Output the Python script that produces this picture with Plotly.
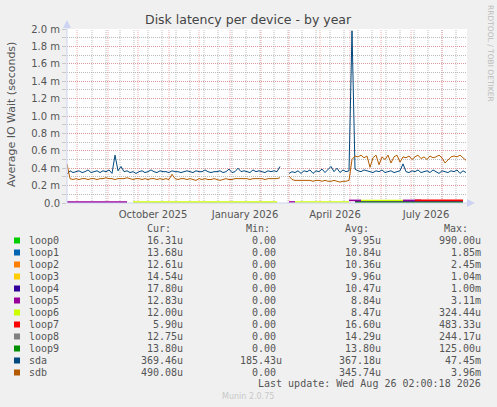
import pandas as pd
import plotly.graph_objects as go

N = None
START = '2025-07-22'
END = '2026-08-26'

# sample dates (every 3 days) for sda / sdb, every 6 days for loop devices
dates = pd.date_range(START, periods=134, freq='3D')
loop_dates = pd.date_range(START, periods=67, freq='6D')

# values in milliseconds
sda = [0.33, 0.37, 0.35, 0.36, 0.37, 0.35, 0.36, 0.38, 0.35, 0.36,
       0.37, 0.35, 0.37, 0.36, 0.38, 0.34, 0.55, 0.37, 0.42, 0.36,
       0.37, 0.35, 0.36, 0.34, 0.36, 0.37, 0.35, 0.36, 0.38, 0.36,
       0.35, 0.37, 0.36, 0.36, 0.35, 0.37, 0.36, 0.36, 0.35, 0.36,
       0.37, 0.36, 0.35, 0.37, 0.36, 0.36, 0.38, 0.36, 0.35, 0.36,
       0.36, 0.37, 0.35, 0.36, 0.39, 0.35, 0.36, 0.40, 0.36, 0.37,
       0.36, 0.35, 0.38, 0.36, 0.37, 0.36, 0.35, 0.37, 0.36, 0.37,
       0.36, 0.42, N, N, 0.34, 0.36, 0.35, 0.37, 0.34, 0.37,
       0.36, 0.38, 0.34, 0.37, 0.36, 0.39, 0.35, 0.38, 0.42, 0.36,
       0.40, 0.35, 0.38, 0.36, 0.37, 1.98, 0.39, 0.37, 0.36, 0.38,
       0.37, 0.36, 0.35, 0.37, 0.36, 0.38, 0.35, 0.36, 0.37, 0.35,
       0.36, 0.37, 0.45, 0.36, 0.35, 0.37, 0.36, 0.38, 0.35, 0.36,
       0.37, 0.35, 0.38, 0.36, 0.34, 0.37, 0.36, 0.35, 0.37, 0.36,
       0.38, 0.34, 0.37, 0.35]

sdb = [0.45, 0.28, 0.27, 0.28, 0.27, 0.28, 0.28, 0.27, 0.28, 0.28,
       0.27, 0.28, 0.28, 0.29, 0.28, 0.28, 0.27, 0.28, 0.28, 0.28,
       0.29, 0.28, 0.27, 0.28, 0.28, 0.27, 0.28, 0.27, 0.28, 0.28,
       0.27, 0.28, 0.27, 0.28, 0.27, 0.33, 0.28, 0.27, 0.28, 0.28,
       0.27, 0.28, 0.27, 0.26, 0.28, 0.27, 0.28, 0.27, 0.27, 0.28,
       0.27, 0.26, 0.27, 0.28, 0.27, 0.27, 0.28, 0.28, 0.28, 0.28,
       0.28, 0.27, 0.28, 0.28, 0.28, 0.28, 0.27, 0.28, 0.28, 0.28,
       0.28, 0.29, N, N, 0.31, 0.27, 0.26, 0.26, 0.26, 0.26,
       0.26, 0.26, 0.25, 0.26, 0.26, 0.25, 0.26, 0.25, 0.25, 0.26,
       0.25, 0.24, 0.25, 0.25, 0.26, 0.50, 0.54, 0.53, 0.55, 0.52,
       0.54, 0.41, 0.52, 0.55, 0.44, 0.53, 0.50, 0.55, 0.46, 0.53,
       0.55, 0.47, 0.53, 0.52, 0.54, 0.50, 0.53, 0.55, 0.51, 0.53,
       0.50, 0.54, 0.52, 0.53, 0.55, 0.52, 0.46, 0.50, 0.53, 0.54,
       0.53, 0.55, 0.52, 0.49]

loop0 = [N, N, N, N, N, N, N, N, N, N, N, N, N, N, N, N, N, N, N, N,
         N, N, N, N, N, N, N, N, N, N, N, N, N, N, N, N, N, N, N, N,
         N, N, N, N, N, N, N, N, 0.008, 0.008, 0.008, 0.008, 0.008, 0.008, 0.008, 0.008, 0.008, 0.008, 0.008, 0.008,
         0.008, 0.008, 0.008, 0.008, 0.008, 0.008, 0.008]
loop1 = [N, N, N, N, N, N, N, N, N, N, N, N, N, N, N, N, N, N, N, N,
         N, N, N, N, N, N, N, N, N, N, N, N, N, N, N, N, N, N, N, N,
         N, N, N, N, N, N, N, N, 0.012, 0.012, 0.012, 0.012, 0.012, 0.012, 0.012, 0.012, 0.012, 0.012, 0.012, 0.012,
         0.012, 0.012, 0.012, 0.012, 0.012, 0.012, 0.012]
loop2 = [N, N, N, N, N, N, N, N, N, N, N, N, N, N, N, N, N, N, N, N,
         N, N, N, N, N, N, N, N, N, N, N, N, N, N, N, N, N, N, N, N,
         N, N, N, N, N, N, N, N, 0.010, 0.010, 0.010, 0.010, 0.010, 0.010, 0.010, 0.010, 0.010, 0.010, 0.010, 0.010,
         0.010, 0.010, 0.010, 0.010, 0.010, 0.010, 0.010]
loop3 = [N, N, N, N, N, N, N, N, N, N, N, N, N, N, N, N, N, N, N, N,
         N, N, N, N, N, N, N, N, N, N, N, N, N, N, N, N, N, N, N, N,
         N, N, N, N, N, N, N, N, 0.018, 0.018, 0.018, 0.018, 0.018, 0.018, 0.018, 0.018, 0.018, 0.018, 0.018, 0.018,
         0.018, 0.018, 0.018, 0.018, 0.018, 0.018, 0.018]
loop4 = [N, N, N, N, N, N, N, N, N, N, N, N, N, N, N, N, N, N, N, N,
         N, N, N, N, N, N, N, N, N, N, N, N, N, N, N, N, N, N, N, N,
         N, N, N, N, N, N, N, N, 0.015, 0.015, 0.015, 0.015, 0.015, 0.015, 0.015, 0.015, 0.015, 0.015, 0.015, 0.015,
         0.015, 0.015, 0.015, 0.015, 0.015, 0.015, 0.015]
loop5 = [0.01, 0.01, 0.01, 0.01, 0.01, 0.01, 0.01, 0.01, 0.01, 0.01, 0.01, N, N, N, N, N, N, N, N, N,
         N, N, N, N, N, N, N, N, N, N, N, N, N, N, N, N, N, 0.012, 0.012, N,
         N, N, N, N, N, N, N, 0.03, 0.03, 0.03, N, N, N, N, N, N, 0.03, 0.03, 0.03, 0.03,
         N, N, N, N, N, N, N]
loop6 = [N, N, N, N, N, N, N, N, N, N, N, 0.01, 0.01, 0.01, 0.01, 0.01, 0.01, 0.01, 0.01, 0.01,
         0.01, 0.01, 0.01, 0.01, 0.01, 0.01, 0.01, 0.01, 0.01, 0.01, 0.01, 0.01, 0.01, 0.01, 0.01, 0.01, N, N, 0.012, 0.012,
         0.012, 0.012, 0.012, 0.012, 0.012, 0.012, 0.012, 0.012, N, 0.028, 0.028, 0.028, 0.028, 0.028, 0.028, 0.028, 0.028, N, N, N,
         N, N, N, N, N, N, N]
loop7 = [N, N, N, N, N, N, N, N, N, N, N, N, N, N, N, N, N, N, N, N,
         N, N, N, N, N, N, N, N, N, N, N, N, N, N, N, N, N, N, N, N,
         N, N, N, N, N, N, N, N, N, N, N, N, N, N, N, N, N, N, 0.03, 0.03,
         0.03, 0.03, 0.03, 0.03, 0.03, 0.03, 0.03]
loop8 = [N, N, N, N, N, N, N, N, N, N, N, N, N, N, N, N, N, N, N, N,
         N, N, N, N, N, N, N, N, N, N, N, N, N, N, N, N, N, N, N, N,
         N, N, N, N, N, N, N, N, 0.006, 0.006, 0.006, 0.006, 0.006, 0.006, 0.006, 0.006, 0.006, 0.006, 0.006, 0.006,
         0.006, 0.006, 0.006, 0.006, 0.006, 0.006, 0.006]
loop9 = [N, N, N, N, N, N, N, N, N, N, N, N, N, N, N, N, N, N, N, N,
         N, N, N, N, N, N, N, N, N, N, N, N, N, N, N, N, N, N, N, N,
         N, N, N, N, N, N, N, N, 0.005, 0.005, 0.005, 0.005, 0.005, 0.005, 0.005, 0.005, 0.005, 0.005, 0.005, 0.005,
         0.005, 0.005, 0.005, 0.005, 0.005, 0.005, 0.005]

names = ['loop0', 'loop1', 'loop2', 'loop3', 'loop4', 'loop5', 'loop6', 'loop7',
         'loop8', 'loop9', 'sda', 'sdb']
colors = ['#00CC00', '#0066B3', '#FF8000', '#FFCC00', '#330099', '#990099',
          '#CCFF00', '#FF0000', '#808080', '#008F00', '#00487D', '#B35A00']
cur_vals = ['16.31u', '13.68u', '12.61u', '14.54u', '17.80u', '12.83u', '12.00u',
            '5.90u', '12.75u', '13.80u', '369.46u', '490.08u']
min_vals = ['0.00', '0.00', '0.00', '0.00', '0.00', '0.00', '0.00', '0.00',
            '0.00', '0.00', '185.43u', '0.00']
avg_vals = ['9.95u', '10.84u', '10.36u', '9.96u', '10.47u', '8.84u', '8.47u',
            '16.60u', '14.29u', '13.80u', '367.18u', '345.74u']
max_vals = ['990.00u', '1.85m', '2.45m', '1.04m', '1.00m', '3.11m', '324.44u',
            '483.33u', '244.17u', '125.00u', '47.45m', '3.96m']

y_tick_vals = [0, 0.2, 0.4, 0.6, 0.8, 1.0, 1.2, 1.4, 1.6, 1.8, 2.0]
y_tick_text = ['0.0', '0.2 m', '0.4 m', '0.6 m', '0.8 m', '1.0 m', '1.2 m', '1.4 m',
               '1.6 m', '1.8 m', '2.0 m']
x_tick_vals = ['2025-10-16', '2026-01-16', '2026-04-16', '2026-07-16']
x_tick_text = ['October 2025', 'January 2026', 'April 2026', 'July 2026']
month_starts = ['2025-08-01', '2025-09-01', '2025-10-01', '2025-11-01', '2025-12-01',
                '2026-01-01', '2026-02-01', '2026-03-01', '2026-04-01', '2026-05-01',
                '2026-06-01', '2026-07-01', '2026-08-01']
minor_grid_dates = pd.date_range('2025-08-16', END, freq='14D')

W, H = 497, 407
L, R, T, B = 67, 30, 29, 204
PW = W - L - R
PH = H - T - B


def px(x):
    return (x - L) / PW


def py(y):
    return (H - B - y) / PH


fig = go.Figure()
loops = [loop0, loop1, loop2, loop3, loop4, loop5, loop6, loop7, loop8, loop9]
for i, vals in enumerate(loops):
    fig.add_trace(go.Scatter(x=loop_dates, y=vals, mode='lines', name=names[i],
                             line=dict(color=colors[i], width=1.6), showlegend=False,
                             cliponaxis=True))
fig.add_trace(go.Scatter(x=dates, y=sda, mode='lines', name='sda',
                         line=dict(color=colors[10], width=1), showlegend=False))
fig.add_trace(go.Scatter(x=dates, y=sdb, mode='lines', name='sdb',
                         line=dict(color=colors[11], width=1), showlegend=False))

RED = 'rgba(235,140,140,0.7)'
GRAY = 'rgba(175,175,175,0.85)'
AXIS = '#CDD3F2'
TXT = '#555555'

shapes = []
for d in minor_grid_dates:
    shapes.append(dict(type='line', xref='x', yref='paper', x0=d, x1=d, y0=0, y1=1,
                       line=dict(color=GRAY, width=1, dash='1px,1px'), layer='below'))
for m in month_starts:
    shapes.append(dict(type='line', xref='x', yref='paper', x0=m, x1=m, y0=0, y1=1,
                       line=dict(color=RED, width=1, dash='1px,1px'), layer='below'))
# axes with arrows
shapes.append(dict(type='line', xref='paper', yref='paper', x0=0, x1=0, y0=0, y1=py(27),
                   line=dict(color=AXIS, width=1)))
shapes.append(dict(type='path', xref='paper', yref='paper',
                   path=f'M {px(63)} {py(28)} L {px(67)} {py(20)} L {px(71)} {py(28)} Z',
                   fillcolor=AXIS, line=dict(width=0)))
shapes.append(dict(type='line', xref='paper', yref='paper', x0=0, x1=px(468), y0=0, y1=0,
                   line=dict(color=AXIS, width=1)))
shapes.append(dict(type='path', xref='paper', yref='paper',
                   path=f'M {px(467)} {py(199)} L {px(475)} {py(203)} L {px(467)} {py(207)} Z',
                   fillcolor=AXIS, line=dict(width=0)))

ann = []
ann.append(dict(text='Disk latency per device - by year', x=px(248.5), y=py(19.5),
                xref='paper', yref='paper', showarrow=False, xanchor='center', yanchor='middle',
                font=dict(family='DejaVu Sans', size=12.5, color='#444444')))
ann.append(dict(text='Average IO Wait (seconds)', x=px(11), y=py(114), textangle=-90,
                xref='paper', yref='paper', showarrow=False, xanchor='center', yanchor='middle',
                font=dict(family='DejaVu Sans', size=11, color=TXT)))
ann.append(dict(text='RRDTOOL / TOBI OETIKER', x=px(491), y=py(53), textangle=90,
                xref='paper', yref='paper', showarrow=False, xanchor='center', yanchor='middle',
                font=dict(family='DejaVu Sans', size=7.5, color='#BBBBBB')))

MONO = 'DejaVu Sans Mono'
FS = 10
header_y = 228
heads = [('Cur:', 173), ('Min:', 272), ('Avg:', 371), ('Max:', 470)]
for t, xr in heads:
    ann.append(dict(text=t, x=px(xr), y=py(header_y), xref='paper', yref='paper',
                    showarrow=False, xanchor='right', yanchor='middle',
                    font=dict(family=MONO, size=FS, color=TXT)))


def fmt(v):
    return v if v[-1] in 'um' else v + '\u00a0'


for i, nm in enumerate(names):
    cy = 240.5 + 12 * i
    shapes.append(dict(type='rect', xref='paper', yref='paper', x0=px(14), x1=px(20),
                       y0=py(cy + 3), y1=py(cy - 3), fillcolor=colors[i], line=dict(width=0)))
    ann.append(dict(text=nm, x=px(26.5), y=py(cy), xref='paper', yref='paper',
                    showarrow=False, xanchor='left', yanchor='middle',
                    font=dict(family=MONO, size=FS, color=TXT)))
    for v, xr in ((cur_vals[i], 185), (min_vals[i], 284), (avg_vals[i], 383), (max_vals[i], 483)):
        ann.append(dict(text=fmt(v), x=px(xr), y=py(cy), xref='paper', yref='paper',
                        showarrow=False, xanchor='right', yanchor='middle',
                        font=dict(family=MONO, size=FS, color=TXT)))

ann.append(dict(text='Last update: Wed Aug 26 02:00:18 2026', x=px(483), y=py(384),
                xref='paper', yref='paper', showarrow=False, xanchor='right', yanchor='middle',
                font=dict(family=MONO, size=FS, color=TXT)))
ann.append(dict(text='Munin 2.0.75', x=px(248), y=py(396), xref='paper', yref='paper',
                showarrow=False, xanchor='center', yanchor='middle',
                font=dict(family='DejaVu Sans', size=8, color='#C8C8C8')))

fig.update_layout(
    width=W, height=H,
    margin=dict(l=L, r=R, t=T, b=B, pad=0),
    paper_bgcolor='#F0F0F0', plot_bgcolor='#FFFFFF',
    showlegend=False,
    shapes=shapes, annotations=ann,
    xaxis=dict(type='date', range=[START, END], tickmode='array', tickvals=x_tick_vals,
               ticktext=x_tick_text, showgrid=False, ticks='outside', ticklen=2,
               tickcolor='rgba(0,0,0,0)', zeroline=False,
               showline=False, tickfont=dict(family='DejaVu Sans', size=10, color=TXT)),
    yaxis=dict(range=[0, 2.0], tickmode='array', tickvals=y_tick_vals, ticktext=y_tick_text,
               showgrid=True, gridcolor=RED, griddash='1px,1px', gridwidth=1,
               zeroline=False, showline=False, ticks='outside', ticklen=4, tickcolor='#C8C8C8',
               tickfont=dict(family='DejaVu Sans', size=10, color=TXT),
               minor=dict(dtick=0.1, showgrid=True, gridcolor=GRAY, griddash='1px,1px',
                          gridwidth=1, ticks='outside', ticklen=4, tickcolor='#C8C8C8')),
)

fig.write_html('out.html', config={'displayModeBar': False},
               post_script="document.body.style.margin='0';")
